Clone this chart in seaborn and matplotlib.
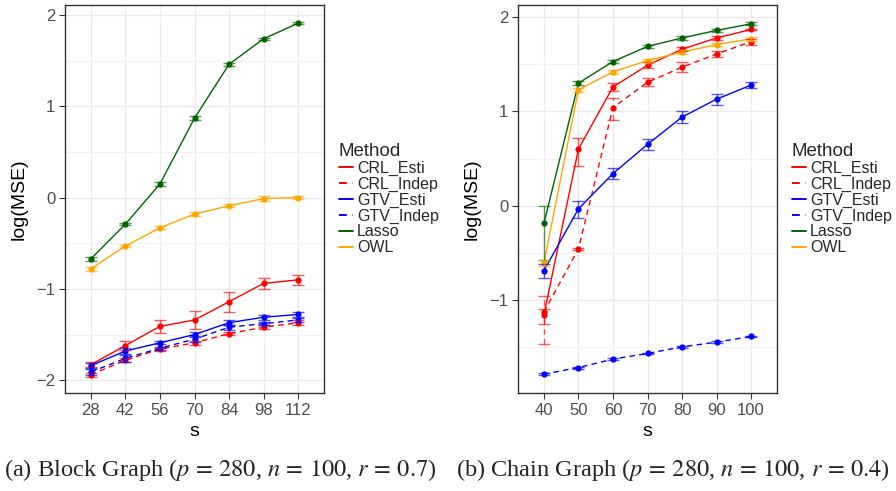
import numpy as np
import pandas as pd
import matplotlib
matplotlib.use("Agg")
import matplotlib.pyplot as plt
import seaborn as sns

# ---- data ----
methods = ["CRL_Esti", "CRL_Indep", "GTV_Esti", "GTV_Indep", "Lasso", "OWL"]

s_block = [28, 42, 56, 70, 84, 98, 112]
block_mean = {
    "CRL_Esti":  [-1.83, -1.62, -1.41, -1.34, -1.14, -0.94, -0.90],
    "CRL_Indep": [-1.94, -1.78, -1.66, -1.59, -1.49, -1.42, -1.37],
    "GTV_Esti":  [-1.84, -1.68, -1.59, -1.50, -1.37, -1.31, -1.28],
    "GTV_Indep": [-1.91, -1.76, -1.65, -1.55, -1.42, -1.38, -1.34],
    "Lasso":     [-0.67, -0.29, 0.15, 0.87, 1.46, 1.74, 1.91],
    "OWL":       [-0.78, -0.53, -0.33, -0.18, -0.09, -0.01, 0.00],
}
block_err = {
    "CRL_Esti":  [0.03, 0.05, 0.07, 0.10, 0.11, 0.065, 0.055],
    "CRL_Indep": [0.02, 0.02, 0.015, 0.02, 0.02, 0.02, 0.025],
    "GTV_Esti":  [0.03, 0.03, 0.015, 0.03, 0.03, 0.025, 0.03],
    "GTV_Indep": [0.03, 0.04, 0.015, 0.03, 0.03, 0.02, 0.02],
    "Lasso":     [0.02, 0.015, 0.025, 0.02, 0.015, 0.01, 0.01],
    "OWL":       [0.02, 0.015, 0.015, 0.02, 0.015, 0.03, 0.015],
}

s_chain = [40, 50, 60, 70, 80, 90, 100]
chain_mean = {
    "CRL_Esti":  [-1.16, 0.60, 1.26, 1.49, 1.66, 1.78, 1.87],
    "CRL_Indep": [-1.13, -0.46, 1.04, 1.31, 1.47, 1.61, 1.74],
    "GTV_Esti":  [-0.69, -0.035, 0.34, 0.65, 0.94, 1.13, 1.28],
    "GTV_Indep": [-1.79, -1.72, -1.63, -1.57, -1.50, -1.45, -1.39],
    "Lasso":     [-0.19, 1.30, 1.53, 1.69, 1.78, 1.86, 1.93],
    "OWL":       [-0.61, 1.23, 1.42, 1.54, 1.63, 1.71, 1.77],
}
chain_err_lo = {
    "CRL_Esti":  [0.10, 0.18, 0.04, 0.03, 0.02, 0.02, 0.01],
    "CRL_Indep": [0.335, 0.01, 0.135, 0.04, 0.05, 0.03, 0.03],
    "GTV_Esti":  [0.08, 0.10, 0.06, 0.06, 0.06, 0.06, 0.03],
    "GTV_Indep": [0.01, 0.01, 0.01, 0.01, 0.01, 0.01, 0.01],
    "Lasso":     [0.39, 0.02, 0.02, 0.02, 0.02, 0.02, 0.015],
    "OWL":       [0.03, 0.02, 0.02, 0.02, 0.02, 0.02, 0.02],
}
chain_err_hi = {
    "CRL_Esti":  [0.06, 0.12, 0.04, 0.03, 0.02, 0.02, 0.01],
    "CRL_Indep": [0.17, 0.01, 0.10, 0.04, 0.05, 0.03, 0.03],
    "GTV_Esti":  [0.07, 0.085, 0.06, 0.06, 0.06, 0.06, 0.03],
    "GTV_Indep": [0.01, 0.01, 0.01, 0.01, 0.01, 0.01, 0.01],
    "Lasso":     [0.19, 0.02, 0.02, 0.02, 0.02, 0.02, 0.015],
    "OWL":       [0.03, 0.02, 0.02, 0.02, 0.02, 0.02, 0.02],
}

palette = {"CRL_Esti": "#FF0000", "CRL_Indep": "#FF0000",
           "GTV_Esti": "#0000FF", "GTV_Indep": "#0000FF",
           "Lasso": "#006400", "OWL": "#FFA500"}
dashes = {m: ((4, 3) if m.endswith("Indep") else "") for m in methods}
markers = {m: "o" for m in methods}


def long_frame(s_vals, means):
    rows = []
    for m in methods:
        for i, (s, v) in enumerate(zip(s_vals, means[m])):
            rows.append({"Method": m, "pos": i, "s": s, "value": v})
    return pd.DataFrame(rows)


sns.set_theme(style="white")
plt.rcParams["font.family"] = ["Liberation Sans", "DejaVu Sans"]
plt.rcParams["mathtext.fontset"] = "stix"

fig = plt.figure(figsize=(8.96, 4.91), dpi=100)
ax1 = fig.add_axes([65 / 896, 1 - 393 / 491, 259 / 896, 388 / 491])
ax2 = fig.add_axes([518 / 896, 1 - 393 / 491, 259 / 896, 388 / 491])


def draw_panel(ax, s_vals, means, err_lo, err_hi, ylim, yticks):
    df = long_frame(s_vals, means)
    sns.lineplot(data=df, x="pos", y="value", hue="Method", style="Method",
                 hue_order=methods, style_order=methods, palette=palette,
                 dashes=dashes, markers=markers, markersize=4.5,
                 markeredgewidth=0, linewidth=1.0, ax=ax)
    for m in methods:
        sub = df[df["Method"] == m]
        ls = (0, (4, 3)) if m.endswith("Indep") else "-"
        _, caps, bars = ax.errorbar(sub["pos"], sub["value"],
                                    yerr=[err_lo[m], err_hi[m]], fmt="none",
                                    ecolor=palette[m], elinewidth=1.0,
                                    capsize=4, capthick=1.0, alpha=0.65)
        for b in bars:
            b.set_linestyle(ls)

    ax.set_xlim(-0.75, len(s_vals) - 0.25)
    ax.set_ylim(*ylim)
    ax.set_xticks(range(len(s_vals)))
    ax.set_xticklabels([str(s) for s in s_vals])
    ax.set_yticks(yticks)
    ax.set_yticks([-1.5, -0.5, 0.5, 1.5], minor=True)
    ax.grid(True, which="major", color="#EBEBEB", linewidth=1.0)
    ax.grid(True, which="minor", axis="y", color="#F2F2F2", linewidth=0.8)
    ax.set_axisbelow(True)
    for sp in ax.spines.values():
        sp.set_color("#333333")
        sp.set_linewidth(1.0)
    ax.tick_params(axis="both", which="major", direction="out", length=4,
                   width=0.8, color="#333333", labelcolor="#4D4D4D",
                   labelsize=12, pad=3, bottom=True, left=True)
    ax.tick_params(axis="y", which="minor", length=0, left=False)
    ax.set_xlabel("s", fontsize=14, color="black", labelpad=4)
    ax.set_ylabel("log(MSE)", fontsize=14, color="black", labelpad=6)

    handles, labels = ax.get_legend_handles_labels()
    for h in handles:
        h.set_marker("")
        h.set_linewidth(1.4)
    ax.legend(handles, labels, title="Method", loc="center left",
              bbox_to_anchor=(1.02, 0.5), frameon=False, fontsize=11.5,
              title_fontsize=13.5, handlelength=0.9, handletextpad=0.25,
              labelspacing=0.05, borderaxespad=0.2, alignment="left")


draw_panel(ax1, s_block, block_mean, block_err, block_err,
           (-2.14, 2.11), [-2, -1, 0, 1, 2])
draw_panel(ax2, s_chain, chain_mean, chain_err_lo, chain_err_hi,
           (-1.99, 2.13), [-1, 0, 1, 2])

fig.text(0.005, 0.03,
         "(a) Block Graph ($p\\,=\\,280$, $n\\,=\\,100$, $r\\,=\\,0.7$)",
         family="Liberation Serif", fontsize=17.6, ha="left", va="baseline")
fig.text(0.509, 0.03,
         "(b) Chain Graph ($p\\,=\\,280$, $n\\,=\\,100$, $r\\,=\\,0.4$)",
         family="Liberation Serif", fontsize=17.6, ha="left", va="baseline")

fig.savefig("out.png", dpi=100)
